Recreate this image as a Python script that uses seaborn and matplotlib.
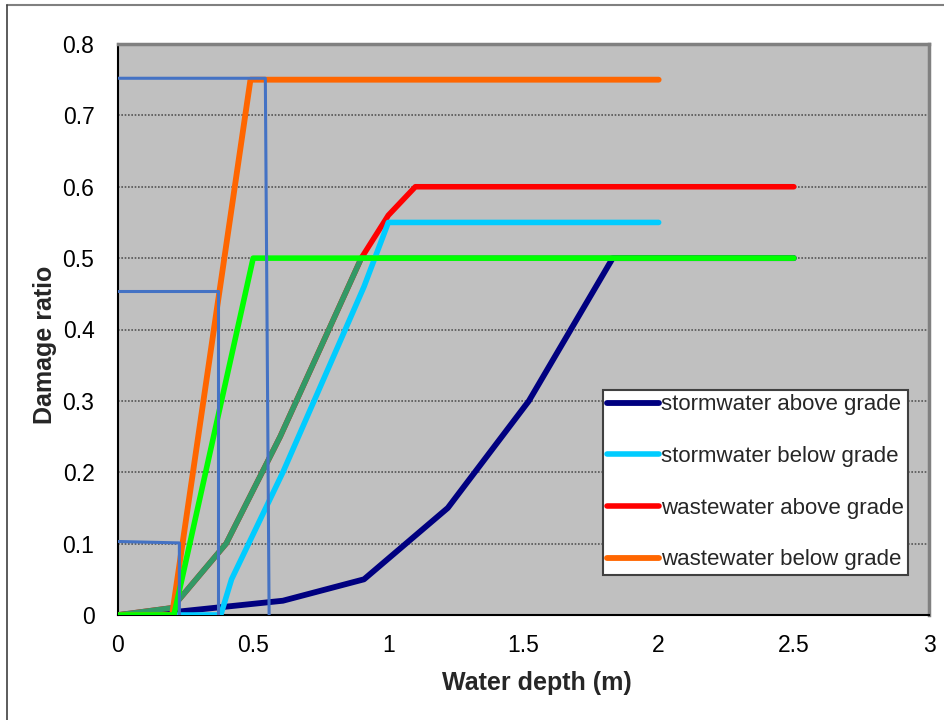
import numpy as np
import pandas as pd
import matplotlib as mpl
mpl.use('Agg')
import matplotlib.pyplot as plt
import seaborn as sns
from matplotlib.lines import Line2D

# depth values in metres
storm_above_x = [0, 0.23, 0.61, 0.91, 1.22, 1.52, 1.83, 2.5]
storm_above_y = [0, 0.005, 0.02, 0.05, 0.15, 0.30, 0.50, 0.50]

storm_below_x = [0, 0.38, 0.42, 0.61, 0.91, 1.0, 2.0]
storm_below_y = [0, 0, 0.05, 0.20, 0.46, 0.55, 0.55]

waste_above_x = [0, 0.2, 0.4, 0.6, 0.9, 1.0, 1.1, 2.5]
waste_above_y = [0, 0.01, 0.10, 0.25, 0.50, 0.56, 0.60, 0.60]

waste_below_x = [0, 0.2, 0.49, 2.0]
waste_below_y = [0, 0, 0.75, 0.75]

# unlabelled curves
green_x = [0, 0.207, 0.5, 2.5]
green_y = [0, 0, 0.5, 0.5]

seagreen_x = [0, 0.2, 0.4, 0.6, 0.9, 2.5]
seagreen_y = [0, 0.01, 0.10, 0.25, 0.50, 0.50]

step1_x = [0, 0.227, 0.227]
step1_y = [0.103, 0.101, 0]
step2_x = [0, 0.369, 0.369]
step2_y = [0.454, 0.454, 0]
step3_x = [0, 0.545, 0.559]
step3_y = [0.752, 0.752, 0]

xticks = [0, 0.5, 1, 1.5, 2, 2.5, 3]
xticklabels = ['0', '0.5', '1', '1.5', '2', '2.5', '3']
yticks = [0, 0.1, 0.2, 0.3, 0.4, 0.5, 0.6, 0.7, 0.8]
yticklabels = ['0', '0.1', '0.2', '0.3', '0.4', '0.5', '0.6', '0.7', '0.8']

sns.set_style('white')
plt.rcParams['font.family'] = ['Liberation Sans', 'DejaVu Sans']

fig = plt.figure(figsize=(9.44, 7.2), dpi=100)
ax = fig.add_axes([118 / 944, 1 - 615 / 720, 811 / 944, 571 / 720])
ax.set_facecolor('#C0C0C0')

# gridlines
for v in yticks[1:-1]:
    ax.axhline(v, color='#555555', lw=1.2, ls=(0, (1, 1)), zorder=1)


def draw(xs, ys, color, lw, label=None, z=2):
    d = pd.DataFrame({'x': xs, 'y': ys})
    sns.lineplot(data=d, x='x', y='y', ax=ax, color=color, lw=lw,
                 sort=False, estimator=None, label=label,
                 legend=label is not None, zorder=z,
                 solid_capstyle='round', solid_joinstyle='round')
    return ax.lines[-1]


h_navy = draw(storm_above_x, storm_above_y, '#000080', 4.2, 'stormwater above grade', 2)
h_red = draw(waste_above_x, waste_above_y, '#FF0000', 4.0, 'wastewater above grade', 3)
draw(seagreen_x, seagreen_y, '#339966', 4.0, None, 4)
h_cyan = draw(storm_below_x, storm_below_y, '#00CCFF', 4.0, 'stormwater below grade', 5)
h_orange = draw(waste_below_x, waste_below_y, '#FF6600', 4.2, 'wastewater below grade', 6)
draw(green_x, green_y, '#00FF00', 4.0, None, 7)
for sx, sy in [(step1_x, step1_y), (step2_x, step2_y), (step3_x, step3_y)]:
    draw(sx, sy, '#4472C4', 2.2, None, 8)

ax.set_xlim(0, 3)
ax.set_ylim(0, 0.8)
ax.set_xticks(xticks)
ax.set_xticklabels(xticklabels)
ax.set_yticks(yticks)
ax.set_yticklabels(yticklabels)
ax.tick_params(axis='both', labelsize=16.5, colors='black', direction='out',
               length=7, width=1.2)
ax.tick_params(axis='y', pad=10)
ax.tick_params(axis='x', pad=7)

for s in ['left', 'bottom']:
    ax.spines[s].set_color('black')
    ax.spines[s].set_linewidth(1.5)
for s in ['top', 'right']:
    ax.spines[s].set_color('#808080')
    ax.spines[s].set_linewidth(2.5)

ax.set_xlabel('Water depth (m)', fontsize=18, fontweight='bold')
ax.set_ylabel('Damage ratio', fontsize=18, fontweight='bold')
ax.xaxis.set_label_coords(0.517, -0.098)
ax.yaxis.set_label_coords(-0.075, 0.473)

leg = ax.legend(handles=[h_navy, h_cyan, h_red, h_orange],
                labels=['stormwater above grade', 'stormwater below grade',
                        'wastewater above grade', 'wastewater below grade'],
                loc='upper left', bbox_to_anchor=(0.598, 0.394),
                borderaxespad=0, fontsize=16, handlelength=2.3,
                handletextpad=0.1, labelspacing=1.38, borderpad=0.2,
                frameon=True, fancybox=False, framealpha=1)
leg.get_frame().set_edgecolor('#404040')
leg.get_frame().set_linewidth(1.5)
leg.set_zorder(20)

# outer frame of the picture
fig.add_artist(Line2D([7 / 944, 1], [1 - 5 / 720, 1 - 5 / 720],
                      color='#808080', lw=1.5))
fig.add_artist(Line2D([7 / 944, 7 / 944], [0, 1 - 5 / 720],
                      color='#404040', lw=1.2))

fig.savefig('out.png', dpi=100, facecolor='white')
